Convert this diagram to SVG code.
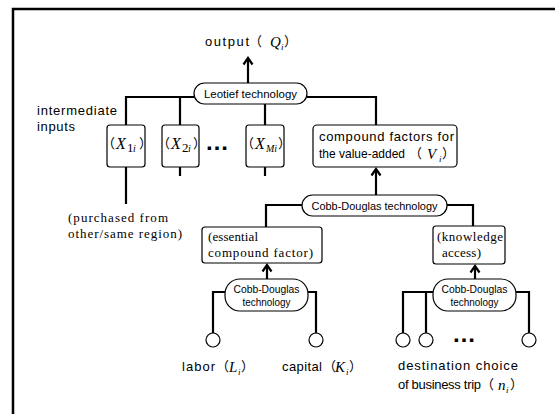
<svg xmlns="http://www.w3.org/2000/svg" width="555" height="414" viewBox="0 0 555 414">
<style>
.sans{font-family:"Liberation Sans",Arial,sans-serif;font-size:13px;fill:#000}
.serif{font-family:"Liberation Serif","Times New Roman",serif;font-size:13px;fill:#000}
.mi{font-family:"Liberation Serif","Times New Roman",serif;font-style:italic;fill:#000}
.cjk{font-family:"Noto Sans CJK JP",sans-serif;font-size:13px;fill:#000}
.pilltxt{font-family:"Liberation Sans",Arial,sans-serif;font-size:11px;fill:#000}
.box{fill:#fff;stroke:#000;stroke-width:1.2}
.pill{fill:#fff;stroke:#000;stroke-width:1.2}
.wire{fill:none;stroke:#000;stroke-width:2.2}
.node{fill:#fff;stroke:#000;stroke-width:1.2}
.dots{font-family:"Liberation Sans",Arial,sans-serif;font-size:24px;font-weight:bold;fill:#000}
</style>
<defs>
<marker id="ah" viewBox="-8 -6 10 12" markerWidth="10" markerHeight="12" refX="0" refY="0" orient="auto" markerUnits="userSpaceOnUse">
<path d="M-6.5,-4.5 L0,0 L-6.5,4.5" fill="none" stroke="#000" stroke-width="2.2"/>
</marker>
</defs>
<rect width="555" height="414" fill="#fff"/>
<path d="M13,414 V9 H555" fill="none" stroke="#000" stroke-width="2.5"/>

<g id="connectors">
<path class="wire" d="M248,83 V58" marker-end="url(#ah)"/>
<path class="wire" d="M126,125 V97 H194"/>
<path class="wire" d="M180,97 V125"/>
<path class="wire" d="M265,97 V125"/>
<path class="wire" d="M307,97 H376 V125"/>
<path class="wire" d="M126,167 V204"/>
<path class="wire" d="M180,167 V176"/>
<path class="wire" d="M265,167 V176"/>
<path class="wire" d="M376,195 V169" marker-end="url(#ah)"/>
<path class="wire" d="M266,227 V205 H302"/>
<path class="wire" d="M447,205 H473 V226"/>
<path class="wire" d="M267,279 V265" marker-end="url(#ah)"/>
<path class="wire" d="M475,279 V266" marker-end="url(#ah)"/>
<path class="wire" d="M225,292 H213 V333"/>
<path class="wire" d="M308,292 H316 V333"/>
<path class="wire" d="M433,292 H403 V333"/>
<path class="wire" d="M426,292 V333"/>
<path class="wire" d="M516,292 H529 V333"/>
</g>

<g id="output">
<text class="sans" x="205" y="46" textLength="44" lengthAdjust="spacing">output</text>
<text class="cjk" x="249" y="46">（</text>
<text class="mi" x="270" y="47" font-size="15">Q</text>
<text class="mi" x="281" y="50" font-size="9">i</text>
<text class="cjk" x="284" y="46">）</text>
</g>

<g id="leontief">
<rect class="pill" x="194" y="83" width="113" height="21" rx="10.5"/>
<text class="pilltxt" x="250.5" y="97.5" text-anchor="middle" textLength="93" lengthAdjust="spacingAndGlyphs">Leotief technology</text>
</g>

<g id="intermediate-label">
<text class="sans" x="37" y="115" textLength="80" lengthAdjust="spacing">intermediate</text>
<text class="sans" x="37" y="131" textLength="38" lengthAdjust="spacing">inputs</text>
</g>

<g id="x1">
<rect class="box" x="107" y="125" width="38" height="42" rx="3"/>
<text class="cjk" x="102" y="148" font-size="14">（</text>
<text class="mi" x="116" y="149" font-size="16">X</text>
<text class="serif" x="127" y="152" font-size="10">1</text>
<text class="mi" x="133" y="152" font-size="10">i</text>
<text class="cjk" x="139" y="148" font-size="14">）</text>
</g>

<g id="x2">
<rect class="box" x="162" y="125" width="37" height="42" rx="3"/>
<text class="cjk" x="157" y="148" font-size="14">（</text>
<text class="mi" x="171" y="149" font-size="16">X</text>
<text class="serif" x="182" y="152" font-size="10">2</text>
<text class="mi" x="188" y="152" font-size="10">i</text>
<text class="cjk" x="193" y="148" font-size="14">）</text>
</g>

<g id="dots-x">
<text class="dots" x="205" y="150">…</text>
</g>

<g id="xm">
<rect class="box" x="246" y="125" width="38" height="42" rx="3"/>
<text class="cjk" x="241" y="148" font-size="14">（</text>
<text class="mi" x="255" y="149" font-size="16">X</text>
<text class="mi" x="266" y="152" font-size="10">Mi</text>
<text class="cjk" x="278" y="148" font-size="14">）</text>
</g>

<g id="purchased">
<text class="serif" x="68" y="222" textLength="100" lengthAdjust="spacing">(purchased from</text>
<text class="serif" x="68" y="238" textLength="114" lengthAdjust="spacing">other/same region)</text>
</g>

<g id="compound">
<rect class="box" x="313" y="125" width="144" height="42" rx="4"/>
<text class="sans" x="319" y="141" textLength="135" lengthAdjust="spacing">compound factors for</text>
<text class="sans" x="319" y="158" font-size="12.5" textLength="86" lengthAdjust="spacingAndGlyphs">the value-added</text>
<text class="cjk" x="409" y="158">（</text>
<text class="mi" x="427" y="159" font-size="15">V</text>
<text class="mi" x="439" y="162" font-size="9">i</text>
<text class="cjk" x="442" y="158">）</text>
</g>

<g id="cobb-top">
<rect class="pill" x="302" y="195" width="145" height="21" rx="10.5"/>
<text class="pilltxt" x="374.5" y="209.5" font-size="12" text-anchor="middle" textLength="126" lengthAdjust="spacingAndGlyphs">Cobb-Douglas technology</text>
</g>

<g id="essential">
<rect class="box" x="202" y="227" width="120" height="36" rx="3"/>
<text class="serif" x="208" y="241" textLength="50" lengthAdjust="spacing">(essential</text>
<text class="serif" x="208" y="257" textLength="105" lengthAdjust="spacing">compound factor)</text>
</g>

<g id="knowledge">
<rect class="box" x="433" y="226" width="72" height="38" rx="3"/>
<text class="serif" x="437" y="241" textLength="66" lengthAdjust="spacing">(knowledge</text>
<text class="serif" x="442" y="257" textLength="39" lengthAdjust="spacing">access)</text>
</g>

<g id="cobb-left">
<rect class="pill" x="225" y="279" width="83" height="32" rx="15"/>
<text class="pilltxt" x="266.5" y="292.5" text-anchor="middle" textLength="66" lengthAdjust="spacingAndGlyphs">Cobb-Douglas</text>
<text class="pilltxt" x="266.5" y="306" text-anchor="middle" textLength="48" lengthAdjust="spacingAndGlyphs">technology</text>
</g>

<g id="cobb-right">
<rect class="pill" x="433" y="279" width="83" height="32" rx="15"/>
<text class="pilltxt" x="474.5" y="292.5" text-anchor="middle" textLength="66" lengthAdjust="spacingAndGlyphs">Cobb-Douglas</text>
<text class="pilltxt" x="474.5" y="306" text-anchor="middle" textLength="48" lengthAdjust="spacingAndGlyphs">technology</text>
</g>

<g id="labor">
<circle class="node" cx="213" cy="340" r="7"/>
<text class="sans" x="182" y="371" textLength="33" lengthAdjust="spacing">labor</text>
<text class="cjk" x="216" y="371">（</text>
<text class="mi" x="229" y="372" font-size="15">L</text>
<text class="mi" x="238" y="375" font-size="9">i</text>
<text class="cjk" x="241" y="371">）</text>
</g>

<g id="capital">
<circle class="node" cx="316" cy="340" r="7"/>
<text class="sans" x="282" y="371" textLength="40" lengthAdjust="spacing">capital</text>
<text class="cjk" x="323" y="371">（</text>
<text class="mi" x="335" y="372" font-size="15">K</text>
<text class="mi" x="346" y="375" font-size="9">i</text>
<text class="cjk" x="349" y="371">）</text>
</g>

<g id="destination">
<circle class="node" cx="403" cy="340" r="7"/>
<circle class="node" cx="426" cy="340" r="7"/>
<text class="dots" x="452" y="342">…</text>
<circle class="node" cx="529" cy="340" r="7"/>
<text class="sans" x="398" y="370" textLength="120" lengthAdjust="spacing">destination choice</text>
<text class="sans" x="398" y="389" textLength="83" lengthAdjust="spacing">of business trip</text>
<text class="cjk" x="481" y="389">（</text>
<text class="mi" x="498" y="390" font-size="15">n</text>
<text class="mi" x="506" y="393" font-size="9">i</text>
<text class="cjk" x="510" y="389">）</text>
</g>
</svg>
